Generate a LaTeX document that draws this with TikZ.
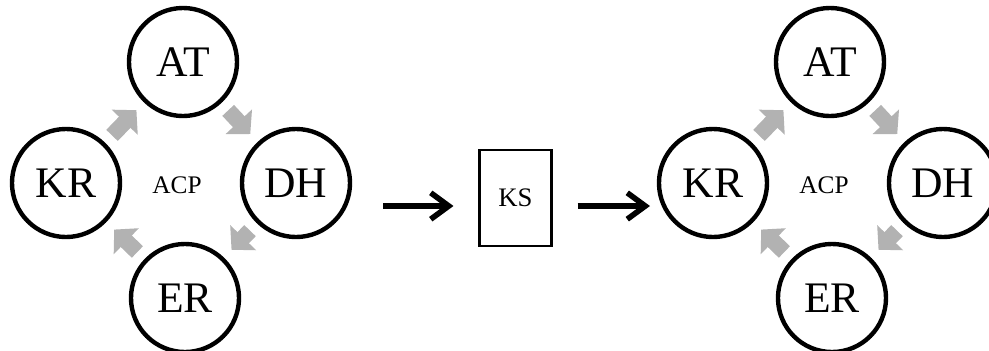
\documentclass[tikz,border=0pt]{standalone}
\usepackage{fontspec}
\setmainfont{Liberation Serif}
\usetikzlibrary{arrows.meta}

\definecolor{cyclegray}{RGB}{178,178,178}

\tikzset{
	enzyme/.style={circle,draw,line width=0.11cm,minimum size=2.7cm,inner sep=0pt,font=\fontsize{31}{36}\selectfont},
	cyclearrow/.style={cyclegray,line width=0.4cm,shorten <=0.25cm,shorten >=0.27cm,-{Triangle[width=0.88cm,length=0.42cm]}},
	flowarrow/.style={line width=0.14cm,-{Straight Barb[length=0.45cm,width=0.66cm]}}
}

\begin{document}
\begin{tikzpicture}[x=0.025cm,y=-0.025cm]
	\useasboundingbox (0,0) rectangle (989,350);
	% the two module cycles
	\foreach \m/\dx in {L/0,R/647}{
		\node[enzyme] (\m KR) at (66+\dx,183) {KR};
		\node[enzyme] (\m AT) at (183+\dx,62) {AT};
		\node[enzyme] (\m DH) at (296+\dx,183) {DH};
		\node[enzyme] (\m ER) at (185+\dx,298) {ER};
		\node[font=\fontsize{18}{20}\selectfont] (\m ACP) at (177+\dx,185) {ACP};
		\draw[cyclearrow] (\m KR) -- (\m AT);
		\draw[cyclearrow] (\m AT) -- (\m DH);
		\draw[cyclearrow] (\m DH) -- (\m ER);
		\draw[cyclearrow] (\m ER) -- (\m KR);
	}
	% KS in the middle
	\node[draw,line width=0.06cm,minimum width=1.8cm,minimum height=2.4cm,font=\fontsize{19}{22}\selectfont] (KS) at (515.5,198) {KS};
	\coordinate (in) at (383,206);
	\coordinate (out) at (650,206);
	\draw[flowarrow,shorten >=0.62cm] (in) -- (in -| KS.west);
	\draw[flowarrow,shorten <=0.62cm] (out -| KS.east) -- (out);
\end{tikzpicture}
\end{document}
